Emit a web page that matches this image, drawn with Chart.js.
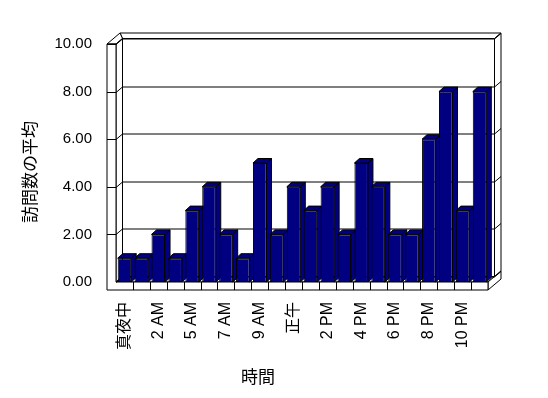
<!DOCTYPE html>
<html>
<head>
<meta charset="utf-8">
<script src="https://cdn.jsdelivr.net/npm/chart.js@4"></script>
<style>
  html, body { margin: 0; padding: 0; background: #fff; }
</style>
</head>
<body>
<canvas id="visitsChart" width="548" height="398"></canvas>
<script>
// hours of the day (two hours are missing in the source data)
const hours = ['真夜中', '1 AM', '2 AM', '3 AM', '5 AM', '6 AM', '7 AM', '8 AM', '9 AM', '10 AM', '正午',
  '1 PM', '2 PM', '3 PM', '4 PM', '5 PM', '6 PM', '7 PM', '8 PM', '9 PM', '10 PM', '11 PM'];
const avgVisits = [1, 1, 2, 1, 3, 4, 2, 1, 5, 2, 4, 3, 4, 2, 5, 4, 2, 2, 6, 8, 3, 8];
const yMin = 0, yMax = 10, yStep = 2;
const xTitle = '時間';
const yTitle = '訪問数の平均';

const NAVY = '#000080';
const FONT = '"Liberation Sans", "Noto Sans CJK JP", sans-serif';
const CJK = '"Noto Sans CJK JP", sans-serif';

// Excel-like 3D box: walls, floor and gridlines, plus bar sides/tops
const box3d = {
  id: 'box3d',
  beforeDatasetsDraw(chart) {
    const { ctx, chartArea: a, scales: { x, y } } = chart;
    const dx = 6.5, dy = -5.5;
    const L = a.left, R = a.right, T = a.top, B = a.bottom;
    const wl = L - 9, fb = B + 8;
    ctx.save();
    ctx.lineWidth = 1;
    ctx.strokeStyle = '#000';
    ctx.fillStyle = '#fff';

    const poly = (pts) => {
      ctx.beginPath();
      ctx.moveTo(pts[0][0], pts[0][1]);
      for (let i = 1; i < pts.length; i++) ctx.lineTo(pts[i][0], pts[i][1]);
      ctx.closePath();
      ctx.fill();
      ctx.stroke();
    };

    // back wall (with its thickness on top and right)
    poly([[L + dx, T + dy], [R + dx, T + dy], [R + dx, B + dy], [L + dx, B + dy]]);
    poly([[wl + 2 * dx, T + 2 * dy], [R + 2 * dx, T + 2 * dy], [R + dx, T + dy], [L + dx, T + dy]]);
    poly([[R + dx, T + dy], [R + 2 * dx, T + 2 * dy], [R + 2 * dx, B + 2 * dy], [R + dx, B + dy]]);
    // left wall top + inner side
    poly([[wl, T], [wl + 2 * dx, T + 2 * dy], [L + dx, T + dy], [L, T]]);
    poly([[L, T], [L + dx, T + dy], [L + dx, B + dy], [L, B]]);
    // floor top and right side
    poly([[L, B], [R, B], [R + dx, B + dy], [L + dx, B + dy]]);
    poly([[R, B], [R + dx, B + dy], [R + 2 * dx, B + 2 * dy], [R + 2 * dx, fb + 2 * dy], [R, fb]]);
    // left wall front + floor front
    poly([[wl, T], [L, T], [L, B], [R, B], [R, fb], [wl, fb]]);

    // gridlines wrapping from the front of the left wall to the back wall
    ctx.beginPath();
    for (let v = yMin; v <= yMax; v += yStep) {
      const py = Math.round(y.getPixelForValue(v)) + 0.5;
      if (v > yMin) {
        ctx.moveTo(wl, py);
        ctx.lineTo(L, py);
      } else {
        ctx.moveTo(L, py);
      }
      ctx.lineTo(L + dx, py + dy);
      ctx.lineTo(R + dx, py + dy);
      ctx.lineTo(R + 2 * dx, py + 2 * dy);
    }
    // category dividers on the floor front
    for (let i = 1; i < hours.length; i++) {
      const px = Math.round((x.getPixelForValue(i - 1) + x.getPixelForValue(i)) / 2) + 0.5;
      ctx.moveTo(px, B);
      ctx.lineTo(px, fb);
    }
    ctx.stroke();

    // bar tops and sides
    const bdx = 5, bdy = -4.5;
    ctx.fillStyle = NAVY;
    chart.getDatasetMeta(0).data.forEach(bar => {
      const { x: cx, y: top, base, width } = bar.getProps(['x', 'y', 'base', 'width'], true);
      const l = cx - width / 2, r = cx + width / 2;
      poly([[r, top], [r + bdx, top + bdy], [r + bdx, base + bdy], [r, base]]);
      poly([[l, top], [l + bdx, top + bdy], [r + bdx, top + bdy], [r, top]]);
    });
    ctx.restore();
  },
  afterDraw(chart) {
    const { ctx } = chart;
    ctx.save();
    ctx.fillStyle = '#000';
    ctx.font = '17px ' + CJK;
    ctx.textAlign = 'center';
    ctx.textBaseline = 'middle';
    ctx.fillText(xTitle, 258, 377);
    ctx.translate(30, 172);
    ctx.rotate(-Math.PI / 2);
    ctx.fillText(yTitle, 0, 0);
    ctx.restore();
  }
};

new Chart(document.getElementById('visitsChart'), {
  type: 'bar',
  data: {
    labels: hours,
    datasets: [{
      data: avgVisits,
      backgroundColor: NAVY,
      borderColor: '#000',
      borderWidth: 1,
      borderSkipped: false,
      barPercentage: 0.8,
      categoryPercentage: 1
    }]
  },
  options: {
    responsive: false,
    animation: false,
    layout: { padding: { top: 44, right: 60, bottom: 0, left: 0 } },
    plugins: { legend: { display: false }, tooltip: { enabled: false } },
    scales: {
      x: {
        grid: { display: false, drawTicks: false },
        border: { display: false },
        afterFit: s => { s.height = 116; },
        ticks: {
          autoSkip: false,
          maxRotation: 90,
          minRotation: 90,
          padding: 20,
          color: '#000',
          font: { family: FONT, size: 16 },
          callback: (v, i) => (i % 2 === 0 ? hours[i] : '')
        }
      },
      y: {
        min: yMin,
        max: yMax,
        grid: { display: false, drawTicks: false },
        border: { display: false },
        afterFit: s => { s.width = 116; },
        ticks: {
          stepSize: yStep,
          padding: 24,
          color: '#000',
          font: { family: FONT, size: 15 },
          callback: v => v.toFixed(2)
        }
      }
    }
  },
  plugins: [box3d]
});
</script>
</body>
</html>
